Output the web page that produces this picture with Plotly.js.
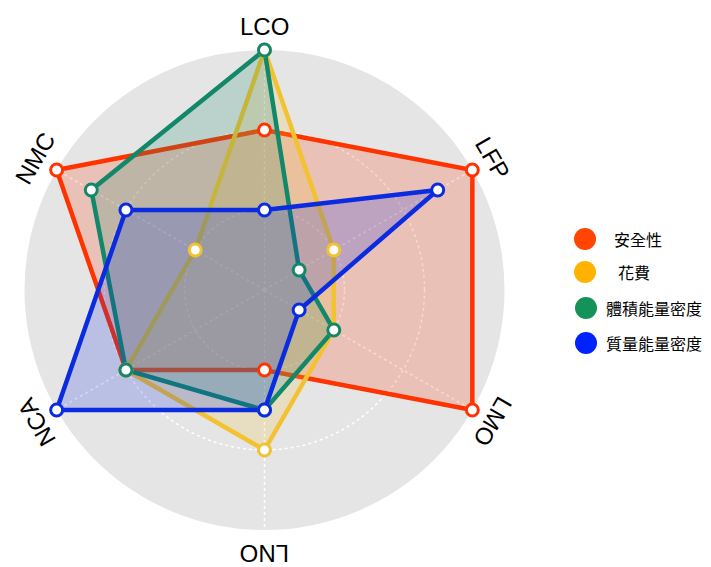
<!DOCTYPE html>
<html>
<head>
<meta charset="utf-8">
<script src="https://cdn.plot.ly/plotly-3.0.1.min.js"></script>
<style>
  html, body { margin: 0; padding: 0; background: #ffffff; }
  #chart { width: 711px; height: 567px; }
</style>
</head>
<body>
<div id="chart"></div>
<script>
// ---- data ----
const categories = ['LCO', 'LFP', 'LMO', 'LNO', 'NCA', 'NMC'];
const safety = [2, 3, 3, 1, 2, 3];               // 安全性
const cost = [3, 1, 1, 2, 2, 1];                 // 花費
const volumeDensity = [3, 0.5, 1, 1.5, 2, 2.5];  // 體積能量密度
const massDensity = [1, 2.5, 0.5, 1.5, 3, 2];    // 質量能量密度
const seriesNames = ['安全性', '花費', '體積能量密度', '質量能量密度'];

// ---- styles ----
const W = 711, H = 567;
const cx = 264.5, cy = 290, R = 240;
const lineColors = ['#FF3300', '#F2C230', '#12876A', '#0A2BE0'];
const fillColors = ['rgba(255,51,0,0.2)', 'rgba(242,192,48,0.2)', 'rgba(18,135,106,0.2)', 'rgba(10,43,224,0.2)'];
const legendColors = ['#FF4500', '#FFB300', '#15925A', '#0022FF'];
const seriesValues = [safety, cost, volumeDensity, massDensity];

function closeLoop(arr) { return arr.concat([arr[0]]); }

const areaTraces = seriesValues.map((vals, i) => ({
  type: 'scatterpolar',
  r: closeLoop(vals),
  theta: closeLoop(categories),
  mode: 'lines',
  fill: 'toself',
  fillcolor: fillColors[i],
  line: { color: lineColors[i], width: 4.5 },
  name: seriesNames[i],
  showlegend: false,
  hoverinfo: 'skip'
}));

const markerTraces = seriesValues.map((vals, i) => ({
  type: 'scatterpolar',
  r: vals,
  theta: categories,
  mode: 'markers',
  marker: { size: 12, color: '#ffffff', line: { color: lineColors[i], width: 3 } },
  name: seriesNames[i],
  showlegend: false,
  hoverinfo: 'skip'
}));

const px = x => x / W;
const py = y => 1 - y / H;

// category labels, rotated radially
const labelR = 264;
const annotations = categories.map((c, k) => {
  const thetaDeg = 90 - k * 60;
  const t = thetaDeg * Math.PI / 180;
  return {
    xref: 'paper', yref: 'paper',
    x: px(cx + labelR * Math.cos(t)),
    y: py(cy - labelR * Math.sin(t)),
    text: c, showarrow: false,
    xanchor: 'center', yanchor: 'middle',
    textangle: 90 - thetaDeg,
    font: { family: 'Liberation Sans, Arial, sans-serif', size: 24, color: '#000000' }
  };
});

// custom legend
const legendCircleX = [585, 585, 586, 586];
const legendY = [239, 272, 308, 343];
const legendTextX = [612, 616, 604, 604];
const shapes = [];
seriesNames.forEach((n, i) => {
  const r = 11;
  shapes.push({
    type: 'circle', xref: 'paper', yref: 'paper',
    x0: px(legendCircleX[i] - r), x1: px(legendCircleX[i] + r),
    y0: py(legendY[i] + r), y1: py(legendY[i] - r),
    fillcolor: legendColors[i], line: { width: 0 }
  });
  annotations.push({
    xref: 'paper', yref: 'paper',
    x: px(legendTextX[i]), y: py(legendY[i]),
    text: n, showarrow: false,
    xanchor: 'left', yanchor: 'middle',
    font: { family: 'Noto Sans CJK TC, sans-serif', size: 16, color: '#000000' }
  });
});

const layout = {
  width: W, height: H,
  margin: { l: 0, r: 0, t: 0, b: 0 },
  paper_bgcolor: '#ffffff',
  showlegend: false,
  polar: {
    domain: { x: [px(cx - R), px(cx + R)], y: [py(cy + R), py(cy - R)] },
    bgcolor: '#E5E5E5',
    radialaxis: {
      range: [0, 3],
      tickvals: [1, 2],
      showticklabels: false,
      ticks: '',
      showline: false,
      showgrid: true,
      gridcolor: '#ffffff',
      griddash: 'dot',
      gridwidth: 1.5
    },
    angularaxis: {
      type: 'category',
      categoryarray: categories,
      rotation: 90,
      direction: 'clockwise',
      showticklabels: false,
      ticks: '',
      showline: false,
      showgrid: true,
      gridcolor: '#ffffff',
      griddash: 'dot',
      gridwidth: 1.5
    }
  },
  annotations: annotations,
  shapes: shapes
};

Plotly.newPlot('chart', areaTraces.concat(markerTraces), layout, { displayModeBar: false, staticPlot: true });
</script>
</body>
</html>
